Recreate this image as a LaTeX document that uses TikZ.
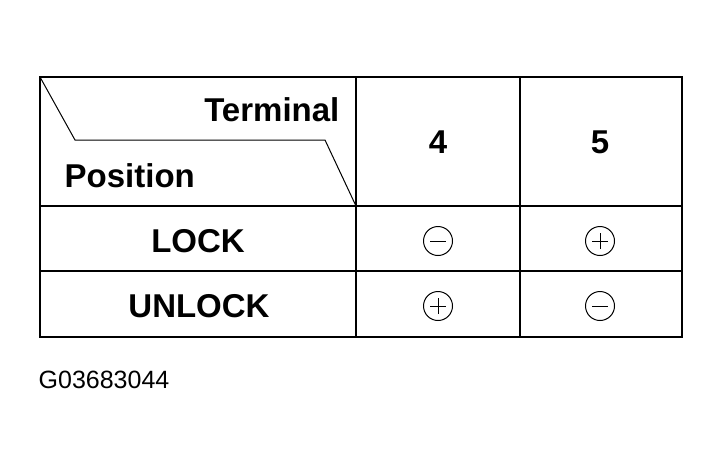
\documentclass[tikz,border=0pt]{standalone}
\usepackage{fontspec}
\setmainfont{Liberation Sans}
\tikzset{
  head/.style={font=\fontsize{33}{36}\selectfont\bfseries, inner sep=0pt},
  sign/.style={circle, draw, line width=1pt, minimum size=29pt, inner sep=0pt},
}
\begin{document}
\begin{tikzpicture}[x=1pt,y=-1pt,line width=1.3pt]
\useasboundingbox (0,0) rectangle (722,459);
% grid
\draw (40,77) rectangle (682,337);
\draw (356,77) -- (356,337);
\draw (520,77) -- (520,337);
\draw (40,206) -- (682,206);
\draw (40,271) -- (682,271);
% header cell
\draw[line width=1pt] (40,77) -- (75,140) -- (325,140) -- (356,206);
\node[head, anchor=east] (term) at (340,110) {Terminal};
\node[head, anchor=west] (pos) at (64,176) {Position};
\node[head] (t4) at (438,142) {4};
\node[head] (t5) at (600,142) {5};
% rows
\node[head] (lock) at (198,241) {LOCK};
\node[head] (unlock) at (199,306) {UNLOCK};
\node[sign] (m1) at (438,241) {};
\draw[line width=1pt] ([xshift=-8pt]m1.center) -- ([xshift=8pt]m1.center);
\node[sign] (p1) at (600,241) {};
\draw[line width=1pt] ([xshift=-8pt]p1.center) -- ([xshift=8pt]p1.center);
\draw[line width=1pt] ([yshift=-8pt]p1.center) -- ([yshift=8pt]p1.center);
\node[sign] (p2) at (438,306) {};
\draw[line width=1pt] ([xshift=-8pt]p2.center) -- ([xshift=8pt]p2.center);
\draw[line width=1pt] ([yshift=-8pt]p2.center) -- ([yshift=8pt]p2.center);
\node[sign] (m2) at (600,306) {};
\draw[line width=1pt] ([xshift=-8pt]m2.center) -- ([xshift=8pt]m2.center);
% code
\node[anchor=west, font=\fontsize{25}{28}\selectfont, inner sep=0pt] (code) at (38,380) {G03683044};
\end{tikzpicture}
\end{document}
